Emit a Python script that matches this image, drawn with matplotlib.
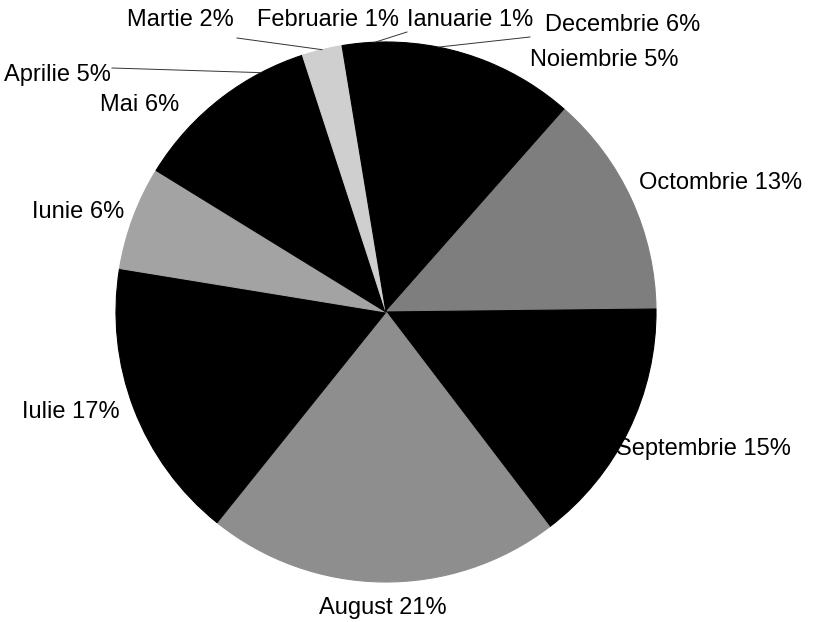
import numpy as np
import matplotlib
matplotlib.use("Agg")
import matplotlib.pyplot as plt

# ---- data (natural month order) ----
months = ["Ianuarie", "Februarie", "Martie", "Aprilie", "Mai", "Iunie",
          "Iulie", "August", "Septembrie", "Octombrie", "Noiembrie", "Decembrie"]
values = [1.3, 1.3, 2.4, 5.3, 5.9, 6.2, 16.8, 21.1, 14.8, 13.3, 5.3, 6.2]
percent_labels = [1, 1, 2, 5, 6, 6, 17, 21, 15, 13, 5, 6]

# ---- style ----
slice_colors = {"Ianuarie": "#000000", "Februarie": "#000000", "Martie": "#cfcfcf",
                "Aprilie": "#000000", "Mai": "#000000", "Iunie": "#a3a3a3",
                "Iulie": "#000000", "August": "#8e8e8e", "Septembrie": "#000000",
                "Octombrie": "#7e7e7e", "Noiembrie": "#000000", "Decembrie": "#000000"}
# label centres in figure pixels (layout)
label_pos = {"Ianuarie": (470, 20), "Februarie": (328, 20), "Martie": (180, 20),
             "Aprilie": (57, 75), "Mai": (140, 105), "Iunie": (78, 212),
             "Iulie": (71, 412), "August": (383, 608), "Septembrie": (703, 449),
             "Octombrie": (721, 183), "Noiembrie": (604, 60), "Decembrie": (623, 25)}
# where the leader line starts (figure pixels), for labels that have one
leader_start = {"Martie": (237, 38), "Aprilie": (112, 68),
                "Ianuarie": (407, 32), "Decembrie": (530, 37)}

W, H = 821, 622
CX, CY, R = 386, 312, 270

plt.rcParams['font.family'] = ['Liberation Sans', 'DejaVu Sans']

fig = plt.figure(figsize=(W / 100, H / 100), dpi=100)
fig.patch.set_facecolor("white")
ax = fig.add_axes([(CX - R) / W, (H - CY - R) / H, 2 * R / W, 2 * R / H])

order = months[::-1]
vals = values[::-1]
cols = [slice_colors[m] for m in order]
wedges, _ = ax.pie(vals, colors=cols, startangle=90, counterclock=False,
                   radius=1, wedgeprops=dict(linewidth=0.8))
for w, c in zip(wedges, cols):
    w.set_edgecolor(c)
ax.set_xlim(-1, 1)
ax.set_ylim(-1, 1)
ax.axis("off")


def px2data(px, py):
    return (px - CX) / R, (CY - py) / R


for m, w in zip(order, wedges):
    i = months.index(m)
    txt = f"{m} {percent_labels[i]}%"
    lx, ly = px2data(*label_pos[m])
    ax.text(lx, ly, txt, ha="center", va="center", fontsize=17,
            color="black", clip_on=False)
    if m in leader_start:
        mid = np.deg2rad((w.theta1 + w.theta2) / 2)
        ex, ey = np.cos(mid), np.sin(mid)
        sx, sy = px2data(*leader_start[m])
        ax.plot([sx, ex], [sy, ey], color="#333333", lw=0.7, clip_on=False)

fig.savefig("out.png", dpi=100, facecolor="white")
